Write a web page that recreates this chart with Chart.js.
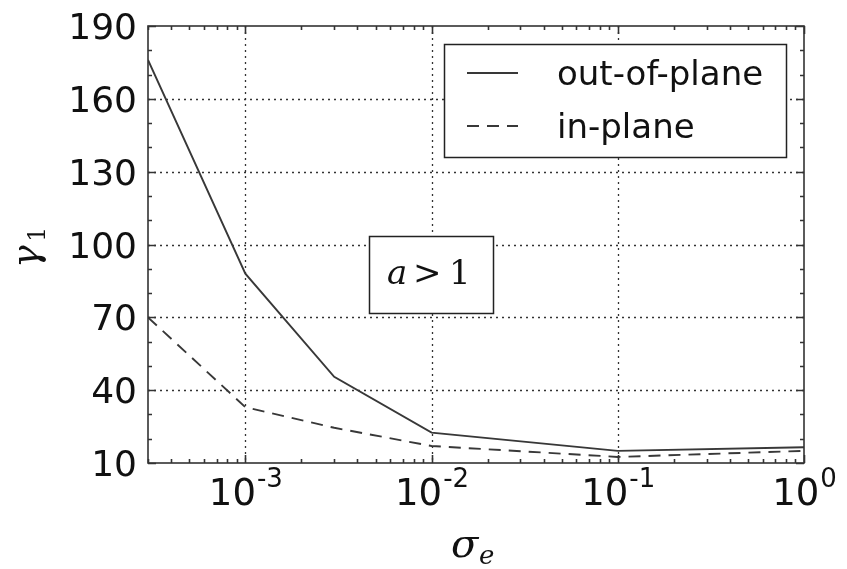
<!DOCTYPE html>
<html>
<head>
<meta charset="utf-8">
<script src="https://cdn.jsdelivr.net/npm/chart.js@4/dist/chart.umd.min.js"></script>
<style>
  html, body { margin: 0; padding: 0; background: #fff; }
</style>
</head>
<body>
<canvas id="gammaChart" width="847" height="569"></canvas>
<script>
// Data
const sigmaE = [3e-4, 1e-3, 3e-3, 1e-2, 1e-1, 1];
const outOfPlane = [176, 88, 45.5, 22.5, 15, 16.5];
const inPlane = [70, 33, 24.5, 17, 12.5, 15];
const seriesNames = ['out-of-plane', 'in-plane'];
const yTicks = [10, 40, 70, 100, 130, 160, 190];
const xTickExps = [-3, -2, -1, 0];

const ink = '#333';

// Matplotlib-style axes: dotted grid, inward ticks, frame, math labels
const axesPlugin = {
    id: 'axesPlugin',
    beforeDatasetsDraw(chart) {
        const { ctx, chartArea: a, scales: { x, y } } = chart;
        ctx.save();
        ctx.strokeStyle = ink;
        ctx.lineWidth = 1.3;
        ctx.setLineDash([2, 4]);
        xTickExps.forEach(e => {
            const px = Math.round(x.getPixelForValue(Math.pow(10, e))) + 0.5;
            if (px <= a.left + 1 || px >= a.right - 1) return;
            ctx.beginPath(); ctx.moveTo(px, a.top); ctx.lineTo(px, a.bottom); ctx.stroke();
        });
        yTicks.forEach(v => {
            const py = Math.round(y.getPixelForValue(v)) + 0.5;
            if (py <= a.top + 1 || py >= a.bottom - 1) return;
            ctx.beginPath(); ctx.moveTo(a.left, py); ctx.lineTo(a.right, py); ctx.stroke();
        });
        ctx.restore();
    },
    afterDatasetsDraw(chart) {
        const { ctx, chartArea: a, scales: { x, y } } = chart;
        ctx.save();
        ctx.strokeStyle = ink;
        ctx.lineWidth = 1.6;
        ctx.setLineDash([]);

        // x ticks (major at decades, minor at 2..9)
        for (let e = -4; e <= 0; e++) {
            for (let k = 1; k <= 9; k++) {
                const v = k * Math.pow(10, e);
                if (v < x.min || v > x.max) continue;
                const px = Math.round(x.getPixelForValue(v)) + 0.5;
                const len = k === 1 ? 8 : 4;
                ctx.beginPath();
                ctx.moveTo(px, a.bottom); ctx.lineTo(px, a.bottom - len);
                ctx.moveTo(px, a.top); ctx.lineTo(px, a.top + len);
                ctx.stroke();
            }
        }
        // y ticks (major every 30, minor every 10)
        for (let v = 10; v <= 190; v += 10) {
            const py = Math.round(y.getPixelForValue(v)) + 0.5;
            const len = (v - 10) % 30 === 0 ? 8 : 4;
            ctx.beginPath();
            ctx.moveTo(a.left, py); ctx.lineTo(a.left + len, py);
            ctx.moveTo(a.right, py); ctx.lineTo(a.right - len, py);
            ctx.stroke();
        }
        // frame
        ctx.strokeRect(a.left, a.top, a.right - a.left, a.bottom - a.top);

        // y tick labels
        ctx.fillStyle = '#111';
        ctx.font = '36px "DejaVu Sans"';
        ctx.textAlign = 'right';
        ctx.textBaseline = 'alphabetic';
        yTicks.forEach(v => {
            ctx.fillText(String(v), a.left - 11, y.getPixelForValue(v) + 13);
        });

        // x tick labels 10^n
        ctx.textAlign = 'left';
        xTickExps.forEach(e => {
            const px = x.getPixelForValue(Math.pow(10, e));
            ctx.font = '37px "DejaVu Sans"';
            const wb = ctx.measureText('10').width;
            ctx.font = '26px "DejaVu Sans"';
            const sup = e === 0 ? '0' : '-' + Math.abs(e);
            const ws = ctx.measureText(sup).width;
            const x0 = px - (wb + ws) / 2;
            ctx.font = '37px "DejaVu Sans"';
            ctx.fillText('10', x0, 505);
            ctx.font = '26px "DejaVu Sans"';
            ctx.fillText(sup, x0 + wb + 1, 487);
        });

        // axis titles
        ctx.font = 'italic 40px "DejaVu Serif"';
        ctx.fillText('σ', 451, 557);
        ctx.font = 'italic 26px "DejaVu Serif"';
        ctx.fillText('e', 479, 564);

        ctx.save();
        ctx.translate(38, 268);
        ctx.rotate(-Math.PI / 2);
        ctx.font = 'italic 38px "DejaVu Serif"';
        ctx.fillText('γ', 0, 0);
        ctx.font = '24px "DejaVu Serif"';
        ctx.fillText('1', 26, 7);
        ctx.restore();

        // legend
        ctx.lineWidth = 1.5;
        ctx.strokeStyle = '#222';
        ctx.fillStyle = '#fff';
        ctx.fillRect(444, 44, 342, 113);
        ctx.strokeRect(444.5, 44.5, 342, 113);
        const rows = [73, 126];
        chart.data.datasets.forEach((ds, i) => {
            ctx.strokeStyle = ds.borderColor;
            ctx.lineWidth = ds.borderWidth;
            ctx.setLineDash(ds.borderDash || []);
            ctx.beginPath(); ctx.moveTo(467, rows[i]); ctx.lineTo(518, rows[i]); ctx.stroke();
            ctx.setLineDash([]);
            ctx.fillStyle = '#111';
            ctx.font = '34px "DejaVu Sans"';
            ctx.fillText(ds.label, 557, rows[i] + 12);
        });

        // annotation box
        ctx.strokeStyle = '#222';
        ctx.lineWidth = 1.5;
        ctx.fillStyle = '#fff';
        ctx.fillRect(369, 236, 124, 77);
        ctx.strokeRect(369.5, 236.5, 124, 77);
        ctx.fillStyle = '#111';
        ctx.font = 'italic 34px "DejaVu Serif"';
        ctx.fillText('a', 387, 284);
        ctx.font = '34px "DejaVu Serif"';
        ctx.fillText('>', 413, 284);
        ctx.fillText('1', 449, 284);

        ctx.restore();
    }
};

new Chart(document.getElementById('gammaChart'), {
    type: 'line',
    data: {
        datasets: [{
            label: seriesNames[0],
            data: sigmaE.map((s, i) => ({ x: s, y: outOfPlane[i] })),
            borderColor: '#383838',
            borderWidth: 1.9,
            pointRadius: 0,
            tension: 0
        }, {
            label: seriesNames[1],
            data: sigmaE.map((s, i) => ({ x: s, y: inPlane[i] })),
            borderColor: '#383838',
            borderWidth: 1.9,
            borderDash: [12, 8],
            pointRadius: 0,
            tension: 0
        }]
    },
    options: {
        responsive: false,
        animation: false,
        devicePixelRatio: 1,
        layout: {
            padding: { left: 148, right: 43, top: 26, bottom: 106 }
        },
        plugins: {
            legend: { display: false },
            tooltip: { enabled: false }
        },
        scales: {
            x: {
                type: 'logarithmic',
                min: 3e-4,
                max: 1,
                display: false
            },
            y: {
                type: 'linear',
                min: 10,
                max: 190,
                display: false
            }
        }
    },
    plugins: [axesPlugin]
});
</script>
</body>
</html>
